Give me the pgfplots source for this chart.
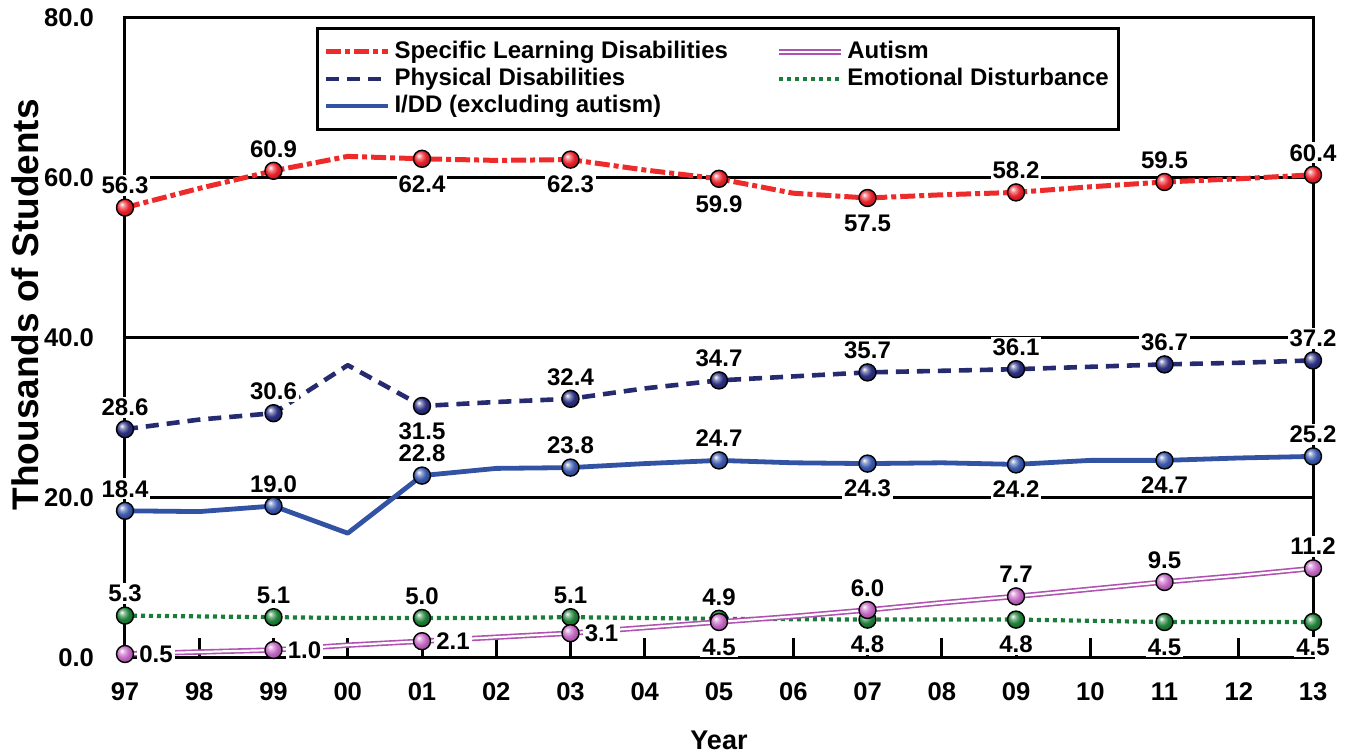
\documentclass[border=0pt]{standalone}
\usepackage{fontspec}
\setmainfont{Liberation Sans}
\usepackage{pgfplots}
\usepackage{pgfplotstable}
\pgfplotsset{compat=1.18}

\definecolor{sldcol}{HTML}{EE2B2B}
\definecolor{sldball}{HTML}{E8202A}
\definecolor{physcol}{HTML}{262A6E}
\definecolor{physball}{HTML}{2A2F80}
\definecolor{iddcol}{HTML}{3253A3}
\definecolor{iddball}{HTML}{3A58AC}
\definecolor{autcol}{HTML}{B050B0}
\definecolor{autball}{HTML}{C466C4}
\definecolor{edcol}{HTML}{1A7D3A}
\definecolor{edball}{HTML}{1E8038}

\newcommand\defball[2]{%
  \pgfdeclareradialshading{#1shade}{\pgfqpoint{-10bp}{10bp}}{color(0bp)=(white); color(8bp)=(#2!55!white); color(18bp)=(#2); color(30bp)=(#2!75!black); color(50bp)=(#2!40!black)}%
  \pgfdeclareplotmark{#1}{%
    \pgfpathcircle{\pgfpointorigin}{\pgfplotmarksize}%
    \pgfshadepath{#1shade}{0}%
    \pgfsetdash{}{0pt}\pgfsetlinewidth{0.7pt}\pgfsetstrokecolor{black}%
    \pgfusepath{stroke}}}
\defball{ballsld}{sldball}
\defball{ballphys}{physball}
\defball{ballidd}{iddball}
\defball{ballaut}{autball}
\defball{balled}{edball}

\pgfplotstableread{
x  sld  aut  phys  ed   idd
0  56.3 0.5  28.6  5.3  18.4
1  58.7 0.75 29.8  5.2  18.3
2  60.9 1.0  30.6  5.1  19.0
3  62.7 1.6  36.6  5.0  15.6
4  62.4 2.1  31.5  5.0  22.8
5  62.2 2.6  32.0  5.0  23.7
6  62.3 3.1  32.4  5.1  23.8
7  61.0 3.8  33.7  5.0  24.3
8  59.9 4.5  34.7  4.9  24.7
9  58.1 5.2  35.2  4.85 24.4
10 57.5 6.0  35.7  4.8  24.3
11 57.9 6.9  35.9  4.8  24.4
12 58.2 7.7  36.1  4.8  24.2
13 58.9 8.6  36.4  4.65 24.7
14 59.5 9.5  36.7  4.5  24.7
15 59.9 10.3 36.9  4.5  25.0
16 60.4 11.2 37.2  4.5  25.2
}\datatable

\pgfplotsset{
  sld/.style={color=sldcol, line width=2.5pt, line join=round, dash pattern=on 7.5pt off 2pt on 2.5pt off 2pt, mark=ballsld},
  phys/.style={color=physcol, line width=2.3pt, line join=round, dash pattern=on 6.5pt off 4pt, mark=ballphys},
  idd/.style={color=iddcol, line width=2.4pt, line join=round, solid, mark=ballidd},
  aut/.style={draw=autcol, line width=0.8pt, double=white, double distance=1.1pt, line join=round, solid, mark=ballaut},
  ed/.style={color=edcol, line width=2.1pt, dash pattern=on 2pt off 2pt, mark=balled},
}

\tikzset{lbl/.style={font=\bfseries\fontsize{12}{13}\selectfont, fill=white, inner sep=1pt}}
\newcommand\lA[3]{\node[lbl,yshift=11pt] at (axis cs:#1,#2) {#3};}
\newcommand\lB[3]{\node[lbl,yshift=-12.5pt] at (axis cs:#1,#2) {#3};}
\newcommand\lR[3]{\node[lbl,anchor=west,xshift=6pt] at (axis cs:#1,#2) {#3};}

\begin{document}
\begin{tikzpicture}
\begin{axis}[
  at={(0,0)}, anchor=origin,
  scale only axis, width=594pt, height=320pt,
  xmin=0, xmax=16, ymin=0, ymax=80,
  clip=false,
  xtick={0,...,16},
  xticklabels={97,98,99,00,01,02,03,04,05,06,07,08,09,10,11,12,13},
  ytick={0,20,40,60,80},
  /pgf/number format/assume math mode=true,
  yticklabel style={/pgf/number format/fixed, /pgf/number format/fixed zerofill, /pgf/number format/precision=1, xshift=-12pt},
  xticklabel style={yshift=-9pt},
  tick label style={font=\bfseries\fontsize{12.8}{14}\selectfont},
  axis line style={line width=1.5pt},
  ymajorgrids, grid style={black, line width=1.5pt},
  xtick style={black, line width=1.5pt},
  ytick style={draw=none},
  tick align=inside, xtick pos=left,
  major tick length=10pt,
  ylabel={Thousands of Students},
  ylabel style={font=\bfseries\fontsize{18.5}{22}\selectfont, at={(axis description cs:-0.0842,0.552)}, anchor=center},
  xlabel={Year},
  xlabel style={font=\bfseries\fontsize{13.5}{16}\selectfont, at={(axis description cs:0.5,0)}, anchor=center, yshift=-41pt},
  mark size=4.25pt,
  legend columns=2,
  legend cell align=left,
  legend image code/.code={\draw[#1] (0pt,0pt) -- (31pt,0pt);},
  legend style={at={(rel axis cs:0.1608,0.986)}, anchor=north west, draw=black, line width=1.5pt,
    inner xsep=3pt, inner ysep=5pt,
    font=\bfseries\fontsize{12}{14}\selectfont,
    /tikz/every even column/.append style={column sep=22pt},
    nodes={inner ysep=1pt, text height=9pt, text depth=2.5pt}},
]
\addlegendimage{sld}\addlegendentry{Specific Learning Disabilities}
\addlegendimage{aut}\addlegendentry{Autism}
\addlegendimage{phys}\addlegendentry{Physical Disabilities}
\addlegendimage{ed}\addlegendentry{Emotional Disturbance}
\addlegendimage{idd}\addlegendentry{I/DD (excluding autism)}

\addplot[sld, mark repeat=2, forget plot] table[x=x,y=sld]{\datatable};
\addplot[phys, mark repeat=2, forget plot] table[x=x,y=phys]{\datatable};
\addplot[idd, mark repeat=2, forget plot] table[x=x,y=idd]{\datatable};
\addplot[ed, mark repeat=2, forget plot] table[x=x,y=ed]{\datatable};
\addplot[aut, mark repeat=2, forget plot] table[x=x,y=aut]{\datatable};

% SLD labels
\lA{0}{56.3}{56.3}\lA{2}{60.9}{60.9}\lB{4}{62.4}{62.4}\lB{6}{62.3}{62.3}\lB{8}{59.9}{59.9}
\lB{10}{57.5}{57.5}\lA{12}{58.2}{58.2}\lA{14}{59.5}{59.5}\lA{16}{60.4}{60.4}
% Physical
\lA{0}{28.6}{28.6}\lA{2}{30.6}{30.6}\lB{4}{31.5}{31.5}\lA{6}{32.4}{32.4}\lA{8}{34.7}{34.7}
\lA{10}{35.7}{35.7}\lA{12}{36.1}{36.1}\lA{14}{36.7}{36.7}\lA{16}{37.2}{37.2}
% I/DD
\lA{0}{18.4}{18.4}\lA{2}{19.0}{19.0}\lA{4}{22.8}{22.8}\lA{6}{23.8}{23.8}\lA{8}{24.7}{24.7}
\lB{10}{24.3}{24.3}\lB{12}{24.2}{24.2}\lB{14}{24.7}{24.7}\lA{16}{25.2}{25.2}
% Autism
\lR{0}{0.5}{0.5}\lR{2}{1.0}{1.0}\lR{4}{2.1}{2.1}\lR{6}{3.1}{3.1}\lB{8}{4.5}{4.5}
\lA{10}{6.0}{6.0}\lA{12}{7.7}{7.7}\lA{14}{9.5}{9.5}\lA{16}{11.2}{11.2}
% ED
\lA{0}{5.3}{5.3}\lA{2}{5.1}{5.1}\lA{4}{5.0}{5.0}\lA{6}{5.1}{5.1}\lA{8}{4.9}{4.9}
\lB{10}{4.8}{4.8}\lB{12}{4.8}{4.8}\lB{14}{4.5}{4.5}\lB{16}{4.5}{4.5}
\end{axis}
\pgfresetboundingbox
\path[use as bounding box] (-62.5pt,-48pt) rectangle (612pt,329pt);
\end{tikzpicture}
\end{document}
